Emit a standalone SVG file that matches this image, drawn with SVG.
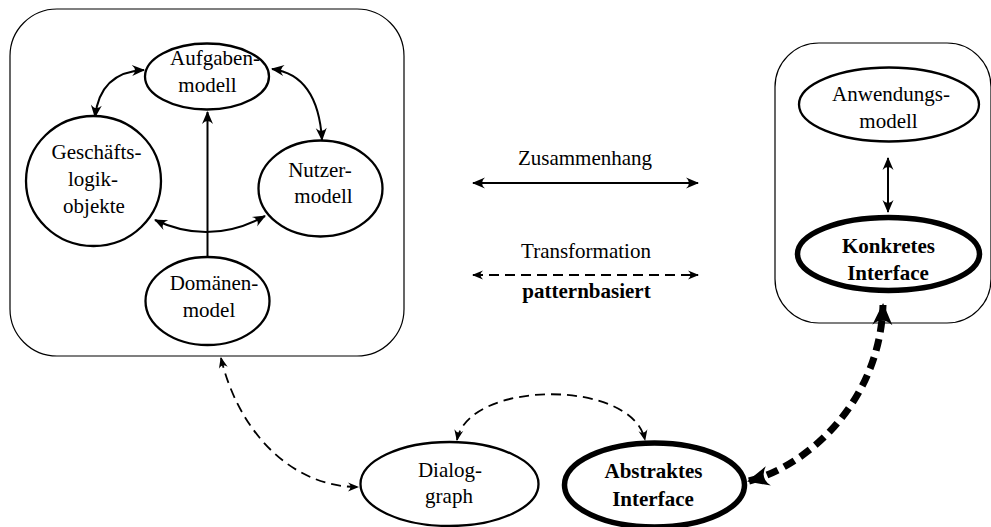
<svg xmlns="http://www.w3.org/2000/svg" width="991" height="527" viewBox="0 0 991 527">
  <defs>
    <style>
      .box { fill: none; stroke: #000; stroke-width: 1.2; }
      .node { fill: #fff; stroke: #000; stroke-width: 2.3; }
      .key { fill: #fff; stroke: #000; stroke-width: 5.5; }
      .lbl { font-family: "Liberation Serif", "Times New Roman", serif; font-size: 21px; text-anchor: middle; fill: #000; }
      .bold { font-weight: bold; }
      .link { fill: none; stroke: #000; stroke-width: 2; }
      .dash { fill: none; stroke: #000; stroke-width: 1.8; stroke-dasharray: 10 6; }
      .heavy { fill: none; stroke: #000; stroke-width: 7; stroke-dasharray: 12 7; }
    </style>
    <marker id="head" viewBox="-13 -6 15 12" refX="0" refY="0" markerWidth="15" markerHeight="12" markerUnits="userSpaceOnUse" orient="auto-start-reverse">
      <path d="M1,0 L-12,-5.5 Q-6,0 -12,5.5 Z" fill="#000"/>
    </marker>
    <marker id="small" viewBox="-11 -5 12 10" refX="0" refY="0" markerWidth="12" markerHeight="10" markerUnits="userSpaceOnUse" orient="auto-start-reverse">
      <path d="M1,0 L-10,-4.5 Q-5,0 -10,4.5 Z" fill="#000"/>
    </marker>
    <marker id="big" viewBox="-23 -12 26 24" refX="0" refY="0" markerWidth="26" markerHeight="24" markerUnits="userSpaceOnUse" orient="auto-start-reverse">
      <path d="M2,0 L-20,-10 Q-11,0 -20,10 Z" fill="#000"/>
    </marker>
  </defs>

  <!-- container boxes -->
  <rect id="modelle" class="box" x="10" y="9" width="394" height="347" rx="47" ry="47"/>
  <rect id="anwendung" class="box" x="775" y="43" width="216" height="280" rx="44" ry="44"/>

  <!-- connectors -->
  <g id="connectors">
    <path class="link" d="M144,70 Q100,72 95,117" marker-start="url(#head)" marker-end="url(#head)"/>
    <path class="link" d="M272,69 Q318,75 322,140" marker-start="url(#head)" marker-end="url(#head)"/>
    <path class="link" d="M155,220 Q210,246 265,216" marker-start="url(#head)" marker-end="url(#head)"/>
    <path class="link" d="M207.5,257 L207.5,112" marker-end="url(#head)"/>
    <path class="link" d="M888,158 L888,212" marker-start="url(#head)" marker-end="url(#head)"/>
    <path class="dash" d="M221,358 C238,430 290,487 358,487" marker-start="url(#small)" marker-end="url(#small)"/>
    <path class="dash" d="M457,440 C468,380 632,378 645,440" marker-start="url(#small)" marker-end="url(#small)"/>
    <path class="heavy" d="M749,481 C810,465 880,400 883,305" marker-start="url(#big)" marker-end="url(#big)"/>
  </g>

  <!-- legend -->
  <g id="legend">
    <text class="lbl" x="585" y="165">Zusammenhang</text>
    <path class="link" d="M473,183 L698,183" stroke-width="2.3" marker-start="url(#head)" marker-end="url(#head)"/>
    <text class="lbl" x="586" y="258">Transformation</text>
    <path class="dash" d="M473,275 L698,275" stroke-width="2" stroke-dasharray="11 8" marker-start="url(#small)" marker-end="url(#small)"/>
    <text class="lbl bold" x="586.5" y="298">patternbasiert</text>
  </g>

  <!-- nodes -->
  <g id="aufgabenmodell">
    <ellipse class="node" cx="207" cy="76.5" rx="62" ry="33"/>
    <text class="lbl" x="215" y="65">Aufgaben-</text>
    <text class="lbl" x="207.5" y="92">modell</text>
  </g>
  <g id="geschaeftslogik">
    <ellipse class="node" cx="93.5" cy="181" rx="67.5" ry="65"/>
    <text class="lbl" x="96.5" y="159">Geschäfts-</text>
    <text class="lbl" x="93" y="186">logik-</text>
    <text class="lbl" x="94" y="213">objekte</text>
  </g>
  <g id="nutzermodell">
    <ellipse class="node" cx="320.5" cy="188.5" rx="62" ry="48"/>
    <text class="lbl" x="320" y="177">Nutzer-</text>
    <text class="lbl" x="323.5" y="203">modell</text>
  </g>
  <g id="domaenenmodel">
    <ellipse class="node" cx="207.5" cy="301" rx="62" ry="44"/>
    <text class="lbl" x="214" y="290">Domänen-</text>
    <text class="lbl" x="209" y="317">model</text>
  </g>
  <g id="anwendungsmodell">
    <ellipse class="node" cx="889" cy="104.5" rx="90" ry="37"/>
    <text class="lbl" x="891" y="101">Anwendungs-</text>
    <text class="lbl" x="888.5" y="128">modell</text>
  </g>
  <g id="konkretes-interface">
    <ellipse class="key" cx="888.5" cy="254" rx="91" ry="36.5"/>
    <text class="lbl bold" x="888.5" y="253">Konkretes</text>
    <text class="lbl bold" x="888" y="280">Interface</text>
  </g>
  <g id="dialoggraph">
    <ellipse class="node" cx="449.5" cy="484" rx="89" ry="42"/>
    <text class="lbl" x="450" y="477">Dialog-</text>
    <text class="lbl" x="449" y="503">graph</text>
  </g>
  <g id="abstraktes-interface">
    <ellipse class="key" cx="654.5" cy="485" rx="90" ry="42"/>
    <text class="lbl bold" x="653.5" y="478">Abstraktes</text>
    <text class="lbl bold" x="653" y="506">Interface</text>
  </g>
</svg>
